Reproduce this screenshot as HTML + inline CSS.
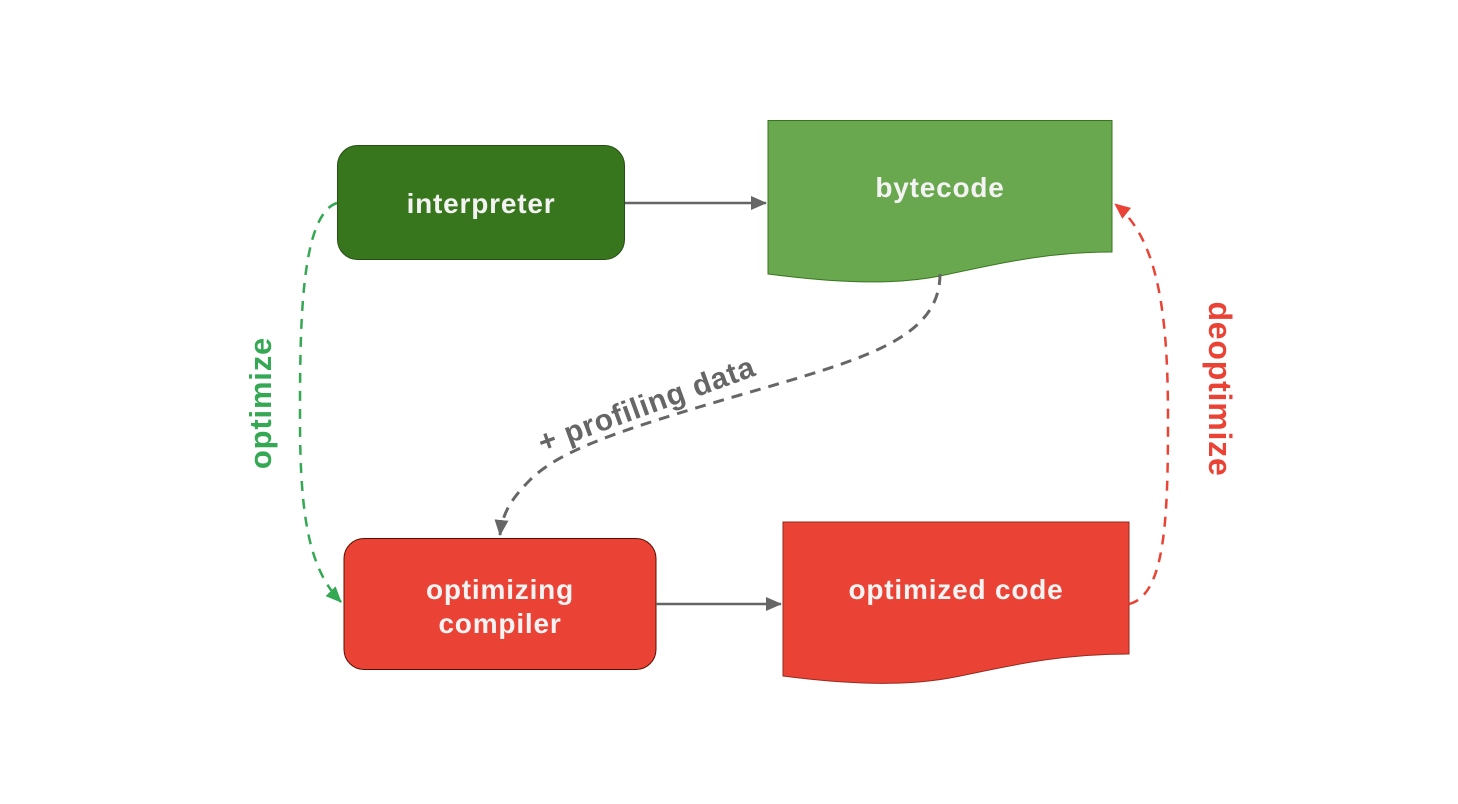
<!DOCTYPE html>
<html><head><meta charset="utf-8"><style>
html,body{margin:0;padding:0;background:#fff}
svg{display:block}
text{font-family:"Liberation Sans",sans-serif;font-weight:bold}
</style></head><body>
<svg width="1458" height="804" viewBox="0 0 1458 804" xmlns="http://www.w3.org/2000/svg">
<defs>
<marker id="ab" markerWidth="16" markerHeight="14" refX="15" refY="7" orient="auto" markerUnits="userSpaceOnUse"><path d="M0,0 L16,7 L0,14 Z" fill="#666"/></marker>
<marker id="agr" markerWidth="16" markerHeight="14" refX="15" refY="7" orient="auto" markerUnits="userSpaceOnUse"><path d="M0,0 L16,7 L0,14 Z" fill="#34a853"/></marker>
<marker id="ar" markerWidth="16" markerHeight="14" refX="15" refY="7" orient="auto" markerUnits="userSpaceOnUse"><path d="M0,0 L16,7 L0,14 Z" fill="#ea4335"/></marker>
</defs>

<rect x="337.5" y="145.5" width="287" height="114" rx="20" fill="#38761d" stroke="#274e13" stroke-width="1"/>
<text x="481" y="213" font-size="28" letter-spacing="0.8" fill="#f3f3f3" text-anchor="middle">interpreter</text>

<path d="M768,120.5 H1112 V252 C1040,252 990,266 940,276 C890,286 830,282 768,274 Z" fill="#6aa84f" stroke="#38761d" stroke-width="1"/>
<text x="940" y="197" font-size="28" letter-spacing="0.8" fill="#f3f3f3" text-anchor="middle">bytecode</text>

<rect x="344" y="538.5" width="312" height="131" rx="20" fill="#ea4335" stroke="#5b0f00" stroke-width="1"/>
<text x="500" y="599" font-size="28" letter-spacing="0.8" fill="#f3f3f3" text-anchor="middle">optimizing</text>
<text x="500" y="633" font-size="28" letter-spacing="0.8" fill="#f3f3f3" text-anchor="middle">compiler</text>

<path d="M783,522 H1129 V654 C1055,654 1005,667 955,677 C905,687 845,684 783,676 Z" fill="#ea4335" stroke="#99291e" stroke-width="1"/>
<text x="956" y="599" font-size="28" letter-spacing="0.8" fill="#f3f3f3" text-anchor="middle">optimized code</text>

<line x1="625" y1="203" x2="766" y2="203" stroke="#666" stroke-width="2.5" marker-end="url(#ab)"/>
<line x1="656" y1="604" x2="781" y2="604" stroke="#666" stroke-width="2.5" marker-end="url(#ab)"/>

<path d="M940,274 C940,340 860,360 740,395 C620,430 560,450 530,480 C510,500 502,515 500,535" fill="none" stroke="#666" stroke-width="3" stroke-dasharray="11,8" marker-end="url(#ab)"/>
<text x="650" y="414" font-size="30" letter-spacing="0.8" fill="#666" text-anchor="middle" transform="rotate(-20 650 414)">+ profiling data</text>

<path d="M337,203 C300,215 300,330 300,420 C300,520 310,570 341,602" fill="none" stroke="#34a853" stroke-width="2.5" stroke-dasharray="10,8" marker-end="url(#agr)"/>
<text x="0" y="0" font-size="31" letter-spacing="0.8" fill="#34a853" text-anchor="middle" transform="translate(271 403) rotate(-90)">optimize</text>

<path d="M1129,604 C1165,595 1168,520 1168,420 C1168,320 1160,240 1115,204" fill="none" stroke="#ea4335" stroke-width="2.5" stroke-dasharray="10,8" marker-end="url(#ar)"/>
<text x="0" y="0" font-size="32" letter-spacing="0.8" fill="#ea4335" text-anchor="middle" transform="translate(1209 389) rotate(90)">deoptimize</text>
</svg>
</body></html>
